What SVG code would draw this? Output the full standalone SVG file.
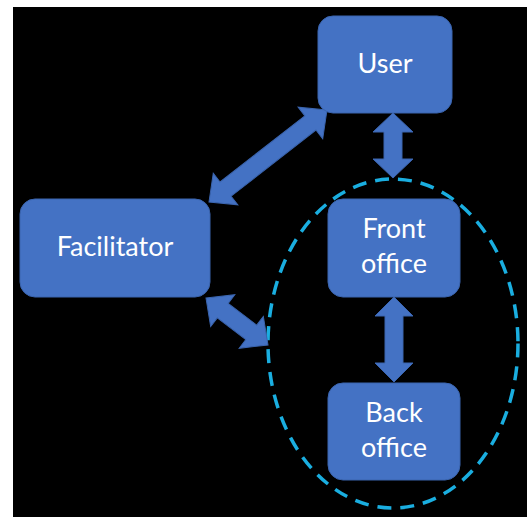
<svg xmlns="http://www.w3.org/2000/svg" width="527" height="517" viewBox="0 0 527 517">
  <style>
    .node { fill: #4472C4; stroke: #3A64AE; stroke-width: 1; }
    .label { fill: #FFFFFF; font-family: Lato, "Liberation Sans", sans-serif; font-size: 27px; text-anchor: middle; }
    .arrow { fill: #4472C4; stroke: #3A64AE; stroke-width: 1; }
    .group { fill: none; stroke: #1AAEE0; stroke-width: 3.5; stroke-dasharray: 14 9; }
  </style>
  <rect x="0" y="0" width="527" height="517" fill="#FFFFFF"/>
  <rect x="13" y="7" width="514" height="510" fill="#000000"/>

  <ellipse class="group" cx="393" cy="343.5" rx="125" ry="164.5"/>

  <g id="connectors">
    <!-- Facilitator <-> User -->
    <polygon class="arrow" transform="translate(209,202) rotate(-37.94)" points="0,0 21,-20 21,-9 128.6,-9 128.6,-20 149.6,0 128.6,20 128.6,9 21,9 21,20"/>
    <!-- Facilitator <-> Office group -->
    <polygon class="arrow" transform="translate(206,298) rotate(37.16)" points="0,0 21,-20 21,-9 56.8,-9 56.8,-20 77.8,0 56.8,20 56.8,9 21,9 21,20"/>
    <!-- User <-> Front office -->
    <polygon class="arrow" transform="translate(393,113) rotate(90)" points="0,0 19,-20 19,-9 46,-9 46,-20 65,0 46,20 46,9 19,9 19,20"/>
    <!-- Front office <-> Back office -->
    <polygon class="arrow" transform="translate(394,297) rotate(90)" points="0,0 19,-19 19,-9 66,-9 66,-19 85,0 66,19 66,9 19,9 19,19"/>
  </g>

  <g id="user">
    <rect class="node" x="318" y="16" width="134" height="97" rx="15"/>
    <text class="label" x="385" y="73">User</text>
  </g>
  <g id="facilitator">
    <rect class="node" x="20" y="199" width="190" height="98" rx="15"/>
    <text class="label" x="115" y="256">Facilitator</text>
  </g>
  <g id="front-office">
    <rect class="node" x="328" y="199" width="132" height="98" rx="15"/>
    <text class="label" x="394" y="238">Front</text>
    <text class="label" x="394" y="273">office</text>
  </g>
  <g id="back-office">
    <rect class="node" x="328" y="383" width="132" height="97" rx="15"/>
    <text class="label" x="394" y="422">Back</text>
    <text class="label" x="394" y="457">office</text>
  </g>
</svg>
